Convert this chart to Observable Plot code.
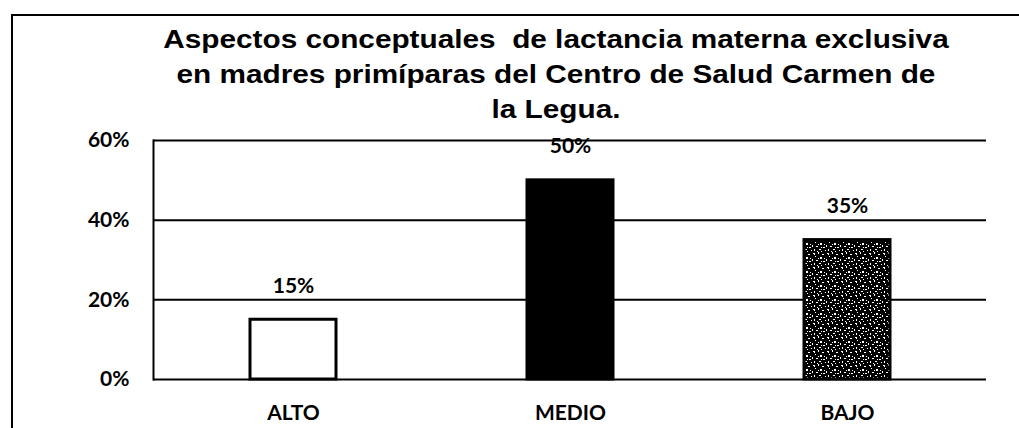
<!DOCTYPE html>
<html>
<head>
<meta charset="utf-8">
<script src="https://cdn.jsdelivr.net/npm/d3@7"></script>
<script src="https://cdn.jsdelivr.net/npm/@observablehq/plot@0.6"></script>
<style>
  html, body { margin: 0; padding: 0; background: #fff; }
  #wrap { position: relative; width: 1019px; height: 428px; overflow: hidden; background: #fff; }
  #frame { position: absolute; left: 11px; top: 14px; right: -4px; bottom: -4px;
           border-top: 2px solid #000; border-left: 2px solid #000; }
  #title { position: absolute; left: 0; top: 22px; width: 1112px; text-align: center;
           font-family: "Liberation Sans", Arial, sans-serif; font-weight: bold; font-size: 25px;
           line-height: 35px; color: #000; white-space: pre;
           transform: scaleX(1.19); transform-origin: 556px 0; }
  #chart { position: absolute; left: 0; top: 0; }
  #chart svg text { font-family: Lato, "Open Sans", sans-serif; font-weight: bold; }
</style>
</head>
<body>
<div id="wrap">
  <div id="frame"></div>
  <div id="title">Aspectos conceptuales  de lactancia materna exclusiva
en madres primíparas del Centro de Salud Carmen de
la Legua.</div>
  <div id="chart"></div>
</div>
<script>
const categories = ["ALTO", "MEDIO", "BAJO"];
const values = [15, 50, 35];
const valueLabels = ["15%", "50%", "35%"];
const yTicks = [0, 20, 40, 60];
const yTickLabels = ["0%", "20%", "40%", "60%"];
const barFills = ["#ffffff", "#000000", "url(#speckle)"];

const data = categories.map((c, i) => ({cat: c, value: values[i], label: valueLabels[i]}));

const plot = Plot.plot({
  width: 1019,
  height: 428,
  marginLeft: 153,
  marginRight: 33,
  marginTop: 140,
  marginBottom: 49,
  style: {fontFamily: "Lato, sans-serif", fontSize: "21px", color: "#000", background: "transparent"},
  x: {domain: categories, paddingInner: 0.69, paddingOuter: 0.345, label: null},
  y: {domain: [0, 60], label: null},
  color: {type: "ordinal", domain: categories, range: barFills},
  marks: [
    Plot.ruleY(yTicks, {stroke: "#000", strokeWidth: 2}),
    Plot.frame({anchor: "left", stroke: "#000", strokeWidth: 2}),
    Plot.barY(data, {x: "cat", y: "value", fill: "cat", stroke: "#000", strokeWidth: 3}),
    Plot.text(data, {x: "cat", y: "value", text: "label", lineAnchor: "bottom", dy: -27, fontSize: 21, fill: "#000"}),
    Plot.axisY({ticks: yTicks, tickFormat: (d) => yTickLabels[yTicks.indexOf(d)], tickSize: 0, tickPadding: 24, fontSize: 21, label: null}),
    Plot.axisX({tickSize: 0, tickPadding: 26, fontSize: 21, label: null})
  ]
});

// speckle texture for the third bar
const ns = "http://www.w3.org/2000/svg";
const defs = document.createElementNS(ns, "defs");
const pat = document.createElementNS(ns, "pattern");
pat.setAttribute("id", "speckle");
pat.setAttribute("patternUnits", "userSpaceOnUse");
pat.setAttribute("width", "14");
pat.setAttribute("height", "14");
const bg = document.createElementNS(ns, "rect");
bg.setAttribute("width", "14"); bg.setAttribute("height", "14"); bg.setAttribute("fill", "#000");
pat.appendChild(bg);
const dots = document.createElementNS(ns, "path");
dots.setAttribute("fill", "#fff");
dots.setAttribute("d",
  "M1,1h2v1h-2z M6,0h1v2h-1z M10,2h2v1h-2z M3,4h1v1h-1z M8,5h2v2h-2z M12,6h1v1h-1z " +
  "M0,7h1v2h-1z M4,8h2v1h-2z M11,9h2v1h-2z M2,11h1v2h-1z M7,11h2v1h-2z M5,13h1v1h-1z " +
  "M13,12h1v1h-1z M9,13h1v1h-1z M6,6h1v1h-1z M2,2h1v1h-1z M9,9h1v1h-1z");
pat.appendChild(dots);
defs.appendChild(pat);
plot.insertBefore(defs, plot.firstChild);

document.getElementById("chart").appendChild(plot);
</script>
</body>
</html>
